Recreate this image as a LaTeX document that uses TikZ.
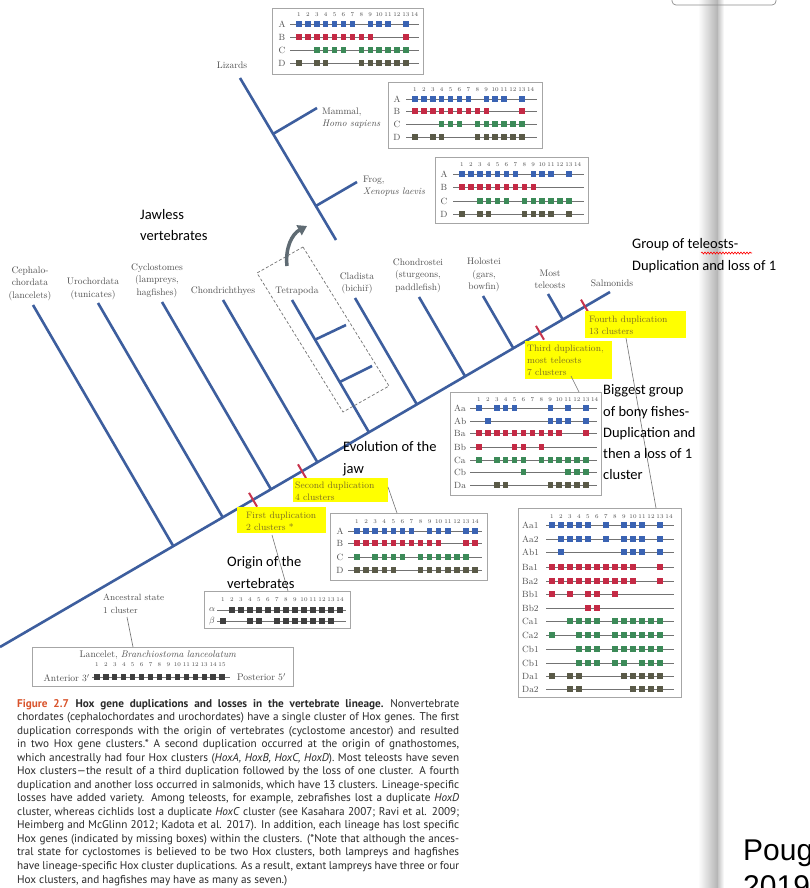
\documentclass[tikz,border=0pt]{standalone}
\usepackage{fontspec}
\newfontfamily\capfont{PT Sans}
\newfontfamily\notef{Carlito}
\newfontfamily\bigf{Liberation Sans}
\usetikzlibrary{arrows.meta,calc,decorations.pathmorphing}
\definecolor{br}{HTML}{3D5E9E}
\definecolor{hb}{HTML}{3A63B3}
\definecolor{hr}{HTML}{C42A45}
\definecolor{hg}{HTML}{3C8A58}
\definecolor{hd}{HTML}{5A5A48}
\definecolor{hk}{HTML}{3F3F3F}
\definecolor{tick}{HTML}{C8344D}
\definecolor{lab}{HTML}{4F4F4F}
\definecolor{hl}{HTML}{FFFF00}
\definecolor{hltext}{HTML}{7D6E22}
\definecolor{figred}{HTML}{D9532B}
\definecolor{captxt}{HTML}{2A2A2A}
\definecolor{arrowc}{HTML}{5F6B73}
\tikzset{
 branch/.style={br, line width=2.6pt},
 dupmark/.style={tick, line width=2pt},
 taxon/.style={lab, font=\fontsize{9.5}{12.5}\selectfont, align=center, inner sep=0},
 hoxbox/.style={draw=black!35, line width=0.7pt, fill=white},
 hoxline/.style={black!55, line width=0.6pt},
 rowlab/.style={lab, font=\fontsize{9}{10}\selectfont, inner sep=0},
 numf/.style={lab, font=\fontsize{5.8}{6}\selectfont, inner sep=0},
 hlbox/.style={fill=hl, draw=none},
 hltxt/.style={hltext, font=\fontsize{9.3}{10}\selectfont, anchor=base west, inner sep=0},
 note/.style={font=\notef\fontsize{14.5}{18}\selectfont, anchor=base west, inner sep=0},
 thinline/.style={black!55, line width=0.6pt},
 capline/.style={font=\capfont\fontsize{11.2}{12}\selectfont, captxt, anchor=base west, inner sep=0},
}
\def\sq{5.4}
\newcommand\hoxrow[7]{%
 \draw[hoxline] (#4,#3) -- (#5,#3);
 \foreach \g in {#7}{\fill[#6] ({#1+(\g-1)*#2-\sq/2},{#3-\sq/2}) rectangle ++(\sq,\sq);}}
\newcommand\hoxnums[5]{%
 \foreach \g in {1,...,#4}{\node[numf] (#5\g) at ({#1+(\g-1)*#2},#3) {\g};}}
\begin{document}
\begin{tikzpicture}[x=1pt,y=-1pt]
\useasboundingbox (0,0) rectangle (810,888);
\fill[white] (0,0) rectangle (810,888);
% page gutter
\shade[left color=white, right color=black!30] (698,0) rectangle (718,888);
\shade[left color=black!22, right color=white] (718,0) rectangle (724,888);
\draw[black!45, rounded corners=4pt, line width=0.7pt] (672,-10) rectangle (776,5);

% ---------- main tree ----------
\coordinate (root) at (0,647);
\coordinate (salm) at (610,292);
\draw[branch] (root) -- (salm);
\foreach \n/\p in {Ceph/{33,305}, Uro/{98,303}, Cyc/{162,302}, Chi/{223,300}, Tet/{292,300}, Cla/{355,298}, Cst/{419,297}, Hol/{483,296}, Tel/{548,294}}{
  \coordinate (t\n) at (\p);
  \coordinate (j\n) at ($(root)!(t\n)!(salm)$);
  \draw[branch] (t\n) -- (j\n);
}
% tetrapod sub-branches
\coordinate (s1) at ($(tTet)!0.30!(jTet)$);
\coordinate (s1e) at (346,325);
\coordinate (s2) at ($(tTet)!0.62!(jTet)$);
\coordinate (s2e) at (372,366);
\draw[branch] (s1) -- (s1e);
\draw[branch] (s2) -- (s2e);
% duplication marks
\foreach \k/\nm in {0.4148/d1, 0.4951/d2, 0.8852/d3, 0.959/d4}{
  \coordinate (\nm) at ($(root)!\k!(salm)$);
  \draw[dupmark] ($(\nm)!8pt!90:(salm)$) -- ($(\nm)!8pt!-90:(salm)$);
}
% dashed box
\draw[black!55, line width=0.7pt, dash pattern=on 3pt off 2pt] (303,247) -- (389,386) -- (343,412) -- (257,273) -- cycle;
% curved arrow
\draw[line width=3.5pt, draw=arrowc, -{Triangle[length=9pt,width=11pt]}] (287,266) .. controls (285,248) and (292,234) .. (307,226);

% ---------- top tree ----------
\coordinate (tLiz) at (240,78);
\coordinate (bTop) at (336,240);
\draw[branch] (tLiz) -- (bTop);
\coordinate (nMam) at ($(tLiz)!0.345!(bTop)$);
\coordinate (eMam) at (317,108);
\coordinate (nFrog) at ($(tLiz)!0.79!(bTop)$);
\coordinate (eFrog) at (357,182);
\draw[branch] (nMam) -- (eMam);
\draw[branch] (nFrog) -- (eFrog);

% ---------- taxon labels ----------
\node[taxon] (lCeph) at (30,283.5) {Cephalo-\\chordata\\(lancelets)};
\node[taxon] (lUro) at (93,289) {Urochordata\\(tunicates)};
\node[taxon] (lCyc) at (157,280.5) {Cyclostomes\\(lampreys,\\hagfishes)};
\node[taxon] (lChi) at (223,291) {Chondrichthyes};
\node[taxon] (lTet) at (297,291) {Tetrapoda};
\node[taxon] (lCla) at (357,283.5) {Cladista\\(bichiř)};
\node[taxon] (lCst) at (418,275.5) {Chondrostei\\(sturgeons,\\paddlefish)};
\node[taxon] (lHol) at (484,275) {Holostei\\(gars,\\bowfin)};
\node[taxon] (lTel) at (550,279.5) {Most\\teleosts};
\node[taxon] (lSal) at (612,283) {Salmonids};
\node[taxon] (lLiz) at (232,65) {Lizards};
\node[taxon, anchor=west, align=left] (lMam) at (322,118) {Mammal,\\\textit{Homo sapiens}};
\node[taxon, anchor=west, align=left] (lFrog) at (363,186) {Frog,\\\textit{Xenopus laevis}};

% ---------- Lizards box ----------
\draw[hoxbox] (272,8) rectangle (423,74);
\hoxnums{299}{8.9}{15}{14}{liz}
\node[rowlab] (lizA) at (282,24) {A};
\node[rowlab] (lizB) at (282,37) {B};
\node[rowlab] (lizC) at (282,50) {C};
\node[rowlab] (lizD) at (282,63) {D};
\hoxrow{299}{8.9}{24}{290}{419}{hb}{1,...,7,9,10,11,13}
\hoxrow{299}{8.9}{37}{290}{419}{hr}{1,...,9,13}
\hoxrow{299}{8.9}{50}{290}{419}{hg}{3,4,5,6,8,9,10,11,12,13}
\hoxrow{299}{8.9}{63}{290}{419}{hd}{1,3,4,8,9,10,11,12,13}

% ---------- Mammal box ----------
\draw[hoxbox] (388,82) rectangle (542,148);
\hoxnums{415}{8.9}{90}{14}{mam}
\node[rowlab] (mamA) at (397,99) {A};
\node[rowlab] (mamB) at (397,111) {B};
\node[rowlab] (mamC) at (397,124) {C};
\node[rowlab] (mamD) at (397,137) {D};
\hoxrow{415}{8.9}{99}{406}{537}{hb}{1,...,7,9,10,11,13}
\hoxrow{415}{8.9}{111}{406}{537}{hr}{1,...,9,13}
\hoxrow{415}{8.9}{124}{406}{537}{hg}{4,5,6,8,9,10,11,12,13}
\hoxrow{415}{8.9}{137}{406}{537}{hd}{1,3,4,8,9,10,11,12,13}

% ---------- Frog box ----------
\draw[hoxbox] (435,157) rectangle (588,223);
\hoxnums{462}{8.9}{165}{14}{frg}
\node[rowlab] (frgA) at (444,174) {A};
\node[rowlab] (frgB) at (444,187) {B};
\node[rowlab] (frgC) at (444,201) {C};
\node[rowlab] (frgD) at (444,214) {D};
\hoxrow{462}{8.9}{174}{453}{584}{hb}{1,...,7,9,10,11,13}
\hoxrow{462}{8.9}{187}{453}{584}{hr}{1,...,9}
\hoxrow{462}{8.9}{201}{453}{584}{hg}{3,4,5,6,8,9,10,11,12,13}
\hoxrow{462}{8.9}{214}{453}{584}{hd}{1,3,4,8,9,10,11,13}

% ---------- Gnathostome box ----------
\draw[hoxbox] (330,513) rectangle (487,580);
\hoxnums{357}{9.08}{522}{14}{gna}
\node[rowlab] (gnaA) at (340,531) {A};
\node[rowlab] (gnaB) at (340,543) {B};
\node[rowlab] (gnaC) at (340,557) {C};
\node[rowlab] (gnaD) at (340,570) {D};
\hoxrow{357}{9.08}{531}{348}{482}{hb}{1,...,7,9,10,11,13,14}
\hoxrow{357}{9.08}{543}{348}{482}{hr}{1,...,10,13,14}
\hoxrow{357}{9.08}{557}{348}{482}{hg}{1,3,4,5,6,8,9,10,11,12,13}
\hoxrow{357}{9.08}{570}{348}{482}{hd}{1,2,3,4,5,8,9,10,11,12,13,14}

% ---------- Cyclostome box ----------
\draw[hoxbox] (204,591) rectangle (350,628);
\hoxnums{223}{9}{600}{14}{cyc}
\node[rowlab] (cycA) at (212,610) {$\alpha$};
\node[rowlab] (cycB) at (212,621) {$\beta$};
\hoxrow{223}{9}{610}{217}{346}{hk}{2,...,14}
\hoxrow{223}{9}{621}{217}{346}{hk}{1,4,5,7,8,9,10,11,12,13}

% ---------- Teleost box ----------
\draw[hoxbox] (450,392) rectangle (601,495);
\hoxnums{479}{8.9}{400}{14}{tel}
\foreach \lbl/\yy in {Aa/408, Ab/421, Ba/433, Bb/447, Ca/460, Cb/472, Da/485}{
  \node[rowlab, anchor=west] (tel\lbl) at (454,\yy) {\lbl};
}
\hoxrow{479}{8.9}{408}{470}{597}{hb}{1,3,4,5,9,11,13}
\hoxrow{479}{8.9}{421}{470}{597}{hb}{2,9,10,11,13}
\hoxrow{479}{8.9}{433}{470}{597}{hr}{1,...,10,13}
\hoxrow{479}{8.9}{447}{470}{597}{hr}{1,5,6,8}
\hoxrow{479}{8.9}{460}{470}{597}{hg}{1,3,4,5,6,8,9,10,11,12,13}
\hoxrow{479}{8.9}{472}{470}{597}{hg}{6,11,12,13}
\hoxrow{479}{8.9}{485}{470}{597}{hd}{3,4,9,10,11,12,13}

% ---------- Salmonid box ----------
\def\sq{5.8}
\draw[hoxbox] (518,508) rectangle (681,697);
\hoxnums{552}{9.0}{517}{14}{sal}
\foreach \lbl/\yy/\nm in {Aa1/525/a, Aa2/539/b, Ab1/552/c, Ba1/567/d, Ba2/581/e, Bb1/594/f, Bb2/608/g, Ca1/621/h, Ca2/635/i, Cb1/649/j, Cb1/663/k, Da1/676/l, Da2/689/m}{
  \node[rowlab, anchor=west] (sal\nm) at (522,\yy) {\lbl};
}
\hoxrow{552}{9}{525}{546}{674}{hb}{1,2,3,4,5,7,9,10,11,13}
\hoxrow{552}{9}{539}{546}{674}{hb}{2,3,4,5,7,9,10,11,13}
\hoxrow{552}{9}{552}{546}{674}{hb}{2,9,10,11,13}
\hoxrow{552}{9}{567}{546}{674}{hr}{1,...,10,13}
\hoxrow{552}{9}{581}{546}{674}{hr}{1,...,10,13}
\hoxrow{552}{9}{594}{546}{674}{hr}{1,3,5,6,8}
\hoxrow{552}{9}{608}{546}{674}{hr}{5,6}
\hoxrow{552}{9}{621}{546}{674}{hg}{3,4,5,6,8,9,10,11,12,13}
\hoxrow{552}{9}{635}{546}{674}{hg}{1,4,5,6,8,9,10,11,12,13}
\hoxrow{552}{9}{649}{546}{674}{hg}{4,5,6,8,9,10,11,12,13}
\hoxrow{552}{9}{663}{546}{674}{hg}{4,5,6,8,9,11,12,13}
\hoxrow{552}{9}{676}{546}{674}{hd}{1,3,4,9,10,11,12,13}
\hoxrow{552}{9}{689}{546}{674}{hd}{3,4,10,11,12,13}

% ---------- Lancelet box ----------
\def\sq{5.2}
\draw[hoxbox] (32,647) rectangle (293,686);
\node[rowlab, font=\fontsize{9.6}{10}\selectfont] (lanT) at (158,655) {Lancelet, \textit{Branchiostoma lanceolatum}};
\hoxnums{97}{8.93}{665}{15}{lan}
\hoxrow{97}{8.93}{677}{92}{230}{hk}{1,...,15}
\node[rowlab, font=\fontsize{9.6}{10}\selectfont, anchor=east] (lanL) at (90,678) {Anterior 3$'$};
\node[rowlab, font=\fontsize{9.6}{10}\selectfont, anchor=west] (lanR) at (237,677) {Posterior 5$'$};
\node[rowlab, anchor=base west] (anc1) at (103,600) {Ancestral state};
\node[rowlab, anchor=base west] (anc2) at (103,613) {1 cluster};
\coordinate (ancA) at (127,617);
\coordinate (ancB) at (133,647);
\draw[thinline] (ancA) -- (ancB);

% ---------- duplication labels ----------
\fill[hl] (585,311) rectangle (686,338);
\node[hltxt] (dup4a) at (589,322) {Fourth duplication};
\node[hltxt] (dup4b) at (589,334) {13 clusters};
\fill[hl] (525,341) rectangle (612,379);
\node[hltxt] (dup3a) at (527,351) {Third duplication,};
\node[hltxt] (dup3b) at (527,363) {most teleosts};
\node[hltxt] (dup3c) at (527,375) {7 clusters};
\fill[hl] (293,478) rectangle (388,502);
\node[hltxt] (dup2a) at (295,488) {Second duplication};
\node[hltxt] (dup2b) at (295,500) {4 clusters};
\fill[hl] (237,507) rectangle (326,533);
\node[hltxt] (dup1a) at (246,518) {First duplication};
\node[hltxt] (dup1b) at (246,530) {2 clusters *};
\coordinate (c4a) at (626,338); \coordinate (c4b) at (656,508);
\coordinate (c3a) at (571,376); \coordinate (c3b) at (579,392);
\coordinate (c2a) at (388,487); \coordinate (c2b) at (397,513);
\coordinate (c1a) at (272,535); \coordinate (c1b) at (288,591);
\draw[thinline] (c4a) -- (c4b);
\draw[thinline] (c3a) -- (c3b);
\draw[thinline] (c2a) -- (c2b);
\draw[thinline] (c1a) -- (c1b);

% ---------- caption ----------
\foreach \i/\txt in {
 1/{\textcolor{figred}{\textbf{Figure 2.7}}\hspace{0.6em}\textbf{Hox gene duplications and losses in the vertebrate lineage.}\hspace{0.6em}Nonvertebrate},
 2/{chordates (cephalochordates and urochordates) have a single cluster of Hox genes. The first},
 3/{duplication corresponds with the origin of vertebrates (cyclostome ancestor) and resulted},
 4/{in two Hox gene clusters.* A second duplication occurred at the origin of gnathostomes,},
 5/{which ancestrally had four Hox clusters (\textit{HoxA, HoxB, HoxC, HoxD}). Most teleosts have seven},
 6/{Hox clusters—the result of a third duplication followed by the loss of one cluster. A fourth},
 7/{duplication and another loss occurred in salmonids, which have 13 clusters. Lineage-specific},
 8/{losses have added variety. Among teleosts, for example, zebrafishes lost a duplicate \textit{HoxD}},
 9/{cluster, whereas cichlids lost a duplicate \textit{HoxC} cluster (see Kasahara 2007; Ravi et al. 2009;},
 10/{Heimberg and McGlinn 2012; Kadota et al. 2017). In addition, each lineage has lost specific},
 11/{Hox genes (indicated by missing boxes) within the clusters. (*Note that although the ances-},
 12/{tral state for cyclostomes is believed to be two Hox clusters, both lampreys and hagfishes},
 13/{have lineage-specific Hox cluster duplications. As a result, extant lampreys have three or four}}{
  \node[capline] (cap\i) at (17,{707+13.54*(\i-1)}) {\makebox[442pt][s]{\txt}};
}
\node[capline] (cap14) at (17,883) {Hox clusters, and hagfishes may have as many as seven.)};

% ---------- notes ----------
\node[note] (n1a) at (140,219) {Jawless};
\node[note] (n1b) at (140,240) {vertebrates};
\node[note] (n2a) at (632,248) {Group of teleosts-};
\node[note] (n2b) at (632,270) {Duplication and loss of 1};
\coordinate (wv1) at (701,253); \coordinate (wv2) at (752,253);
\draw[red, line width=0.6pt, decorate, decoration={snake, amplitude=1pt, segment length=3pt}] (wv1) -- (wv2);
\node[note] (n3a) at (343,451) {Evolution of the};
\node[note] (n3b) at (343,473) {jaw};
\node[note] (n4a) at (603,394) {Biggest group};
\node[note] (n4b) at (603,416) {of bony fishes-};
\node[note] (n4c) at (603,437) {Duplication and};
\node[note] (n4d) at (603,458) {then a loss of 1};
\node[note] (n4e) at (603,479) {cluster};
\node[note] (n5a) at (227,566) {Origin of the};
\node[note] (n5b) at (227,588) {vertebrates};
\node[font=\bigf\fontsize{30}{36}\selectfont, anchor=base west, inner sep=0] (pg1) at (743,860) {Poug};
\node[font=\bigf\fontsize{30}{36}\selectfont, anchor=base west, inner sep=0] (pg2) at (743,896) {2019};
\end{tikzpicture}
\end{document}
